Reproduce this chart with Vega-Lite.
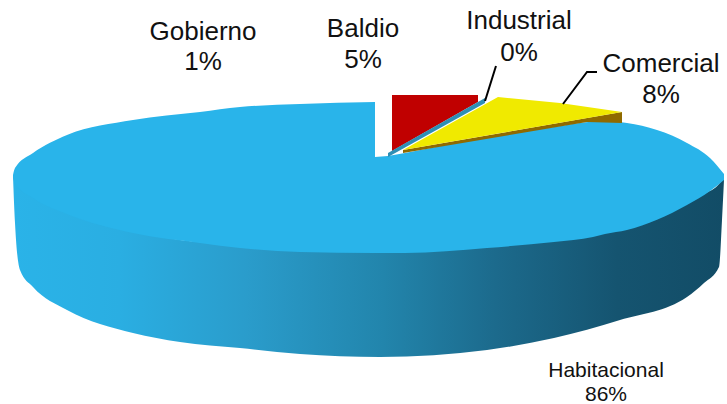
{"$schema":"https://vega.github.io/schema/vega-lite/v6.json","width":727,"height":404,"padding":0,"autosize":{"type":"none"},"background":"white","config":{"view":{"stroke":null}},"encoding":{"x":{"field":"x","type":"quantitative","scale":{"domain":[0,72.7]},"axis":null},"y":{"field":"y","type":"quantitative","scale":{"domain":[40.4,0]},"axis":null}},"layer":[{"data":{"values":[{"x":1.3,"y":17.5,"y2":17.6},{"x":1.5,"y":18,"y2":22.3},{"x":2,"y":18.8,"y2":27},{"x":3.3,"y":19.5,"y2":28.7},{"x":6.7,"y":21,"y2":31},{"x":13.3,"y":23,"y2":33.3},{"x":18,"y":24,"y2":34.2},{"x":24,"y":24.5,"y2":34.8},{"x":30,"y":25,"y2":35.4},{"x":38,"y":25.2,"y2":35.7},{"x":48.7,"y":24.6,"y2":35},{"x":55.4,"y":24,"y2":33.8},{"x":62,"y":22.8,"y2":32},{"x":68.7,"y":20.3,"y2":29.7},{"x":70.4,"y":19.4,"y2":28.3},{"x":71.9,"y":18.4,"y2":26.7},{"x":72.2,"y":18,"y2":22},{"x":72.4,"y":17.6,"y2":18}]},"mark":{"type":"area","interpolate":"monotone","color":{"gradient":"linear","x1":0,"y1":0,"x2":1,"y2":0,"stops":[{"offset":0,"color":"#2ab3e8"},{"offset":0.15,"color":"#2aaee2"},{"offset":0.33,"color":"#2a9ccb"},{"offset":0.52,"color":"#2285ac"},{"offset":0.68,"color":"#1c6a8c"},{"offset":0.85,"color":"#155470"},{"offset":1,"color":"#124c66"}]}},"encoding":{"y2":{"field":"y2"}}},{"data":{"values":[{"x":1.3,"y":17.5,"y2":17.8},{"x":1.5,"y":16.8,"y2":18.3},{"x":3.3,"y":15.3,"y2":19.8},{"x":6.7,"y":13.5,"y2":21.4},{"x":13.3,"y":12,"y2":23.3},{"x":20,"y":11.2,"y2":24.3},{"x":24,"y":10.7,"y2":24.8},{"x":30,"y":10.4,"y2":25.2},{"x":37.5,"y":10.2,"y2":25.3}]},"mark":{"type":"area","interpolate":"monotone","color":"#29b4ea"},"encoding":{"y2":{"field":"y2"}}},{"data":{"values":[{"x":37.5,"y":15.7,"y2":25.3},{"x":38.8,"y":15.6,"y2":25.3},{"x":40.5,"y":15.3,"y2":25.3},{"x":48.7,"y":13.7,"y2":24.8},{"x":55.4,"y":12.7,"y2":24.2},{"x":59.3,"y":12.15,"y2":23.7},{"x":60.5,"y":12.1,"y2":23.4},{"x":62.7,"y":12.3,"y2":23},{"x":68.7,"y":14.3,"y2":20.5},{"x":71,"y":15.8,"y2":19.1},{"x":72.4,"y":17.4,"y2":18}]},"mark":{"type":"area","interpolate":"monotone","color":"#29b4ea"},"encoding":{"y2":{"field":"y2"}}},{"data":{"values":[{"x":39.2,"y":9.5,"y2":15.1},{"x":47.8,"y":9.5,"y2":10.2}]},"mark":{"type":"area","color":"#c00000"},"encoding":{"y2":{"field":"y2"}}},{"data":{"values":[{"x":38.8,"y":15.3,"y2":15.7},{"x":48.5,"y":9.8,"y2":10.3}]},"mark":{"type":"area","color":"#2e8fb5"},"encoding":{"y2":{"field":"y2"}}},{"data":{"values":[{"x":40.3,"y":15,"y2":15.3},{"x":58.7,"y":11.8,"y2":12.2},{"x":62.2,"y":11.2,"y2":12.3}]},"mark":{"type":"area","color":"#8f6a00"},"encoding":{"y2":{"field":"y2"}}},{"data":{"values":[{"x":40.3,"y":15,"y2":15},{"x":49.8,"y":9.7,"y2":13.35},{"x":56,"y":10.3,"y2":12.27},{"x":62.2,"y":11.2,"y2":11.2}]},"mark":{"type":"area","color":"#f0ea00"},"encoding":{"y2":{"field":"y2"}}},{"data":{"values":[{"leader":"Industrial","n":1,"x":49.6,"y":6.6},{"leader":"Industrial","n":2,"x":48.5,"y":10.1},{"leader":"Comercial","n":1,"x":59.7,"y":7.2},{"leader":"Comercial","n":2,"x":58.7,"y":7.2},{"leader":"Comercial","n":3,"x":56.3,"y":10.4}]},"mark":{"type":"line","color":"black","strokeWidth":2},"encoding":{"detail":{"field":"leader"},"order":{"field":"n"}}},{"data":{"values":[{"t":"Gobierno","x":20.3,"y":3.2},{"t":"1%","x":20.3,"y":6.2},{"t":"Baldio","x":36.3,"y":2.9},{"t":"5%","x":36.3,"y":6},{"t":"Industrial","x":51.9,"y":2.1},{"t":"0%","x":51.9,"y":5.3},{"t":"Comercial","x":66.1,"y":6.4},{"t":"8%","x":66.1,"y":9.5}]},"mark":{"type":"text","font":"Liberation Sans","fontSize":26,"color":"#111111","align":"center","baseline":"middle"},"encoding":{"text":{"field":"t"}}},{"data":{"values":[{"t":"Habitacional","x":60.6,"y":37.1},{"t":"86%","x":60.6,"y":39.5}]},"mark":{"type":"text","font":"Liberation Sans","fontSize":21,"color":"#111111","align":"center","baseline":"middle"},"encoding":{"text":{"field":"t"}}}]}
